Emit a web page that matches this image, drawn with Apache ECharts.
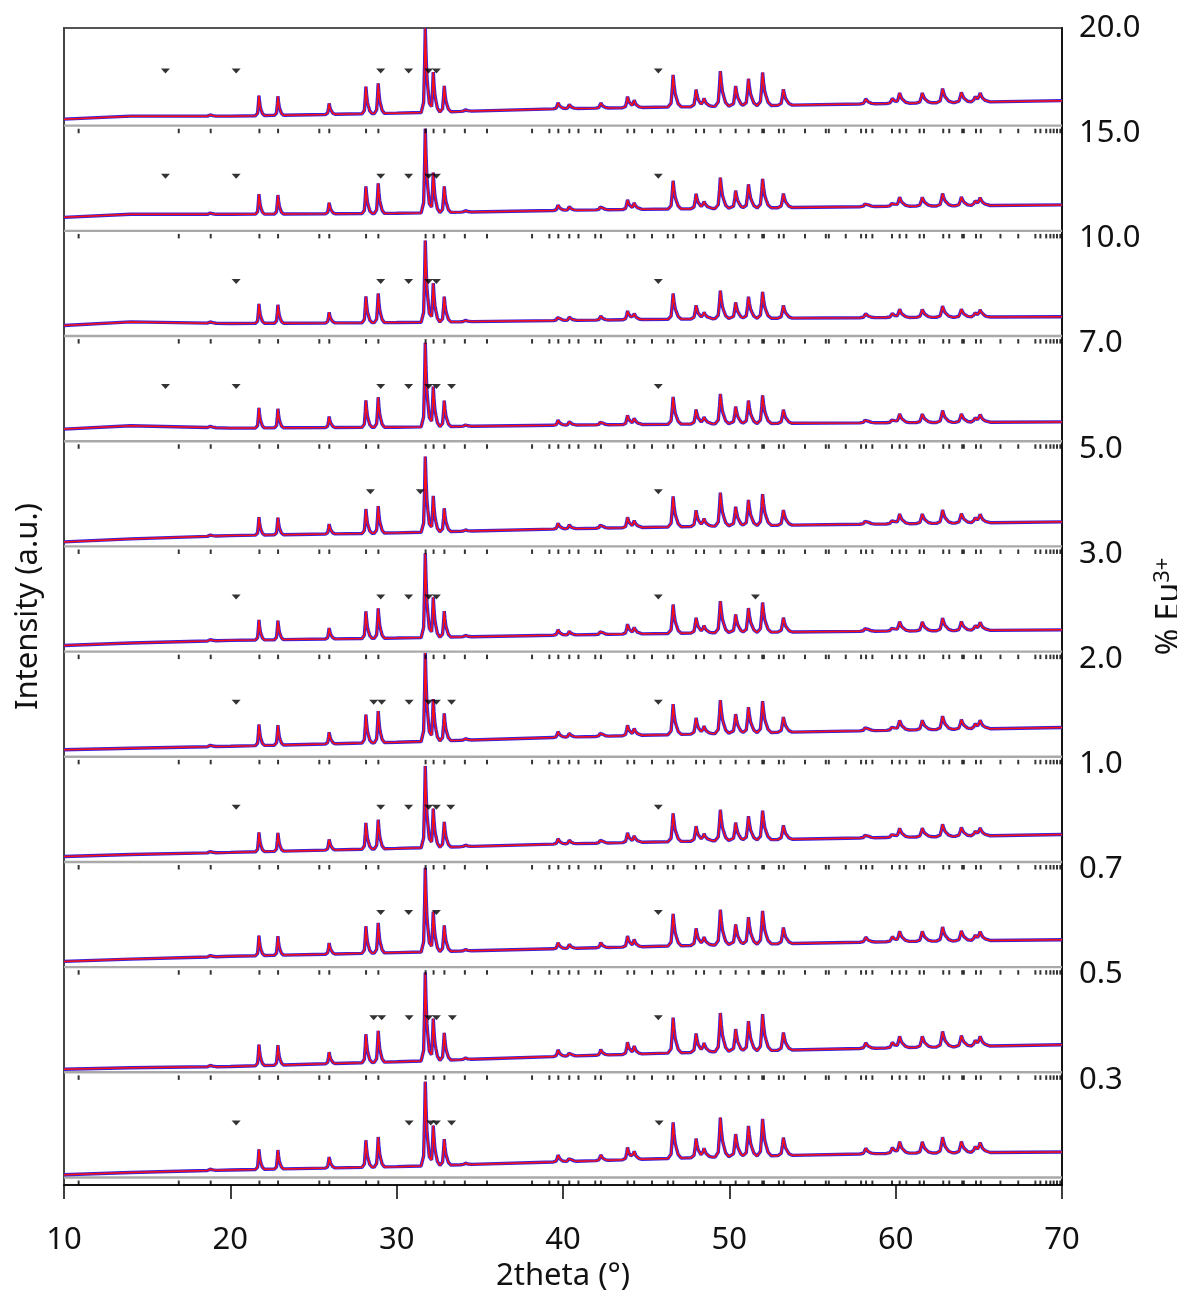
<!DOCTYPE html>
<html>
<head>
<meta charset="utf-8">
<script src="https://cdn.jsdelivr.net/npm/echarts@6/dist/echarts.min.js"></script>
<style>html,body{margin:0;padding:0;background:#fff;overflow:hidden}#c{width:1177px;height:1290px;display:block}</style>
</head>
<body>
<div id="c"></div>
<script>
// ---------- DATA ----------
// panels from bottom (0.3 % Eu3+) to top (20.0 % Eu3+)
const panelLabels = ['0.3', '0.5', '0.7', '1.0', '2.0', '3.0', '5.0', '7.0', '10.0', '15.0', '20.0'];
const xTicks = [10, 20, 30, 40, 50, 60, 70];

// background nodes (2theta) and background level per panel (intensity above panel floor)
const bgX = [10, 14, 20, 30, 40, 50, 60, 70];
const background = [
  [10.2, 12.5, 15.0, 18.3, 23.3, 28.3, 31.7, 33.0],  // 0.3
  [10.6, 12.0, 13.3, 18.0, 23.5, 28.5, 32.0, 35.0],  // 0.5
  [13.2, 15.5, 18.3, 22.0, 26.0, 30.0, 33.0, 34.9],  // 0.7
  [13.0, 15.0, 17.0, 21.0, 25.5, 29.0, 32.0, 34.9],  // 1.0
  [14.5, 16.0, 18.0, 22.0, 27.0, 31.0, 34.0, 36.7],  // 2.0
  [13.6, 16.0, 18.7, 21.0, 24.0, 26.5, 28.0, 29.2],  // 3.0
  [12.0, 15.0, 18.3, 21.0, 25.0, 28.0, 30.0, 32.0],  // 5.0
  [19.6, 23.0, 20.6, 21.5, 23.5, 25.0, 26.0, 26.8],  // 7.0
  [18.0, 21.6, 20.0, 21.0, 23.0, 25.0, 26.0, 26.8],  // 10.0
  [21.0, 24.0, 24.0, 25.0, 28.0, 30.0, 32.0, 33.4],  // 15.0
  [14.0, 17.0, 17.0, 20.0, 24.5, 27.0, 29.7, 32.5]   // 20.0
];

// peak positions (2theta) and heights above background
const peakPos = [18.82, 21.72, 22.86, 25.94, 28.15, 28.89, 31.72, 32.2, 32.86, 34.1,
  39.7, 40.38, 42.27, 43.88, 44.28, 46.62, 48.0, 48.48, 49.46, 50.38, 51.15, 52.0, 53.25,
  58.2, 59.8, 60.24, 61.6, 62.82, 63.95, 64.78, 65.08];
const peakHeight = [2, 20, 19, 11, 27, 30, 84, 40, 26, 2,
  6, 4, 5, 11, 7, 32, 17, 8, 35, 20, 27, 33, 16,
  5, 5, 10, 10, 14, 10, 5, 8];
// per-panel scale of peak heights below / above 36 degrees
const lowAngleScale  = [1.0, 1.05, 1.0, 0.97, 1.05, 1.0, 0.9, 1.0, 0.97, 1.0, 1.0];
const highAngleScale = [1.12, 1.1, 1.0, 0.88, 0.95, 0.9, 0.95, 0.85, 0.8, 0.88, 1.0];

// Bragg reflection positions (tick marks)
const braggPos = [10.88, 16.9, 18.82, 21.75, 22.87, 25.35, 25.95, 28.16, 28.9, 31.74, 32.22, 32.87,
  34.1, 35.43, 38.14, 39.18, 39.72, 40.38, 40.93, 41.94, 42.28, 43.88, 44.28, 45.35, 46.3,
  46.63, 48.0, 48.48, 49.47, 50.38, 51.16, 51.98, 52.08, 52.98, 53.27, 54.55, 55.8, 55.98,
  57.0, 57.92, 58.22, 58.6, 59.78, 60.24, 60.64, 61.44, 61.7, 62.86, 63.22, 64.0, 64.1,
  64.83, 65.12, 66.3, 67.37, 68.4, 68.7, 69.05, 69.3, 69.5, 69.7, 69.9];

// impurity markers (triangles) per panel
const impurity = [
  [20.35, 30.75, 32.05, 32.39, 33.3, 45.78],                 // 0.3
  [28.62, 29.1, 30.75, 31.92, 32.39, 33.35, 45.73],          // 0.5
  [29.04, 30.72, 32.39, 45.73],                              // 0.7
  [20.35, 29.04, 30.72, 31.92, 32.39, 33.25, 45.73],         // 1.0
  [20.35, 28.62, 29.1, 30.75, 31.92, 32.39, 33.3, 45.73],    // 2.0
  [20.35, 29.04, 30.72, 31.92, 32.39, 45.73, 51.57],         // 3.0
  [28.42, 31.42, 45.73],                                     // 5.0
  [16.1, 20.35, 29.04, 30.72, 31.92, 32.39, 33.3, 45.73],    // 7.0
  [20.35, 29.04, 30.72, 31.92, 32.39, 45.73],                // 10.0
  [16.1, 20.35, 29.04, 30.72, 31.92, 32.39, 45.73],          // 15.0
  [16.1, 20.35, 29.04, 30.72, 31.92, 32.39, 45.73]           // 20.0
];

// ---------- layout / style constants ----------
const PANEL = 105;          // height of one panel in intensity units
const DIFF_LEVEL = 7.5;     // difference curve level above panel floor
const TICK_LEVEL = 2.2;     // Bragg ticks level
const MARK_LEVEL = 62;      // impurity markers level
// peak profile shape (offset in degrees, fraction of height)
const profOff  = [-0.2, -0.08, -0.03, 0, 0.035, 0.08, 0.13, 0.2, 0.32];
const profFrac = [0, 0.12, 0.6, 1, 0.7, 0.42, 0.28, 0.1, 0];

function bgAt(p, x) {
  const b = background[p];
  for (let i = 0; i < bgX.length - 1; i++) {
    if (x <= bgX[i + 1]) {
      const t = (x - bgX[i]) / (bgX[i + 1] - bgX[i]);
      return b[i] + t * (b[i + 1] - b[i]);
    }
  }
  return b[b.length - 1];
}
function profileAt(d, w) {
  const o = profOff.map(v => v * w);
  if (d <= o[0] || d >= o[o.length - 1]) return 0;
  for (let i = 0; i < o.length - 1; i++) {
    if (d <= o[i + 1]) {
      const t = (d - o[i]) / (o[i + 1] - o[i]);
      return profFrac[i] + t * (profFrac[i + 1] - profFrac[i]);
    }
  }
  return 0;
}
function widthAt(p) { return 1 + Math.max(0, p - 20) * 0.02; }

function panelCurve(p) {
  const xs = new Set(bgX);
  peakPos.forEach(pp => profOff.forEach(o => xs.add(+(pp + o * widthAt(pp)).toFixed(4))));
  const arr = Array.from(xs).filter(x => x >= 10 && x <= 70).sort((a, b) => a - b);
  const base = p * PANEL;
  return arr.map(x => {
    let y = bgAt(p, x);
    peakPos.forEach((pp, i) => {
      const s = pp < 36 ? lowAngleScale[p] : highAngleScale[p];
      y += peakHeight[i] * s * profileAt(x - pp, widthAt(pp));
    });
    return [x, base + y];
  });
}

const series = [];
for (let p = 0; p < panelLabels.length; p++) {
  const base = p * PANEL;
  const curve = panelCurve(p);
  series.push({
    type: 'line', data: [[10, base + DIFF_LEVEL], [70, base + DIFF_LEVEL]],
    showSymbol: false, lineStyle: { color: '#a9a9a9', width: 2.4 }, z: 2, silent: true
  });
  series.push({
    type: 'line', data: curve, showSymbol: false,
    lineStyle: { color: '#3a22d8', width: 3.4 }, z: 3, silent: true
  });
  series.push({
    type: 'line', data: curve, showSymbol: false,
    lineStyle: { color: '#ff1010', width: 1.5 }, z: 4, silent: true
  });
  series.push({
    type: 'scatter', data: braggPos.map(x => [x, base + TICK_LEVEL]),
    symbol: 'rect', symbolSize: [2, 4.5], itemStyle: { color: '#000' }, z: 5, silent: true
  });
  series.push({
    type: 'scatter', data: impurity[p].map(x => [x, base + MARK_LEVEL]),
    symbol: 'triangle', symbolRotate: 180, symbolSize: [9, 5], itemStyle: { color: '#000' }, z: 5, silent: true
  });
}

const FONT = "'Noto Sans', 'DejaVu Sans', sans-serif";
const el = document.getElementById('c');
const chart = echarts.init(el, null, { renderer: 'canvas', width: 1177, height: 1290 });
chart.setOption({
  animation: false,
  backgroundColor: '#fff',
  grid: { left: 64, right: 115, top: 28, bottom: 105, containLabel: false, outerBoundsMode: 'none',
    show: true, borderColor: '#555', borderWidth: 2, backgroundColor: 'transparent' },
  xAxis: {
    type: 'value', min: xTicks[0], max: xTicks[xTicks.length - 1], interval: 10,
    axisLine: { show: true, onZero: false, lineStyle: { color: '#000', width: 1.5 } },
    axisTick: { show: true, inside: false, length: 14, lineStyle: { color: '#000', width: 1.5 } },
    axisLabel: { fontSize: 31, color: '#111', margin: 40, fontFamily: FONT },
    splitLine: { show: false },
    name: '2theta (°)', nameLocation: 'middle', nameGap: 72,
    nameTextStyle: { fontSize: 31, color: '#111', fontFamily: FONT }
  },
  yAxis: [{
    type: 'value', position: 'right', min: 0, max: PANEL * panelLabels.length, interval: PANEL,
    axisLine: { show: true, lineStyle: { color: '#000', width: 1.5 } },
    axisTick: { show: false },
    splitLine: { show: false },
    axisLabel: {
      fontSize: 31, color: '#111', margin: 17, fontFamily: FONT,
      formatter: v => panelLabels[Math.round(v / PANEL) - 1] || ''
    },
    name: '% Eu{sup|3+}', nameLocation: 'middle', nameGap: 84, nameRotate: 90,
    nameTextStyle: { fontSize: 32, color: '#111', fontFamily: FONT,
      rich: { sup: { fontSize: 22, color: '#111', fontFamily: FONT, verticalAlign: 'top', padding: [0, 0, 14, 0] } } }
  }, {
    type: 'value', position: 'left', min: 0, max: PANEL * panelLabels.length, interval: PANEL,
    axisLine: { show: true, lineStyle: { color: '#444', width: 2 } },
    axisTick: { show: false }, axisLabel: { show: false }, splitLine: { show: false },
    name: 'Intensity (a.u.)', nameLocation: 'middle', nameGap: 20, nameRotate: 90,
    nameTextStyle: { fontSize: 31, color: '#111', fontFamily: FONT }
  }],
  series: series
});
</script>
</body>
</html>
